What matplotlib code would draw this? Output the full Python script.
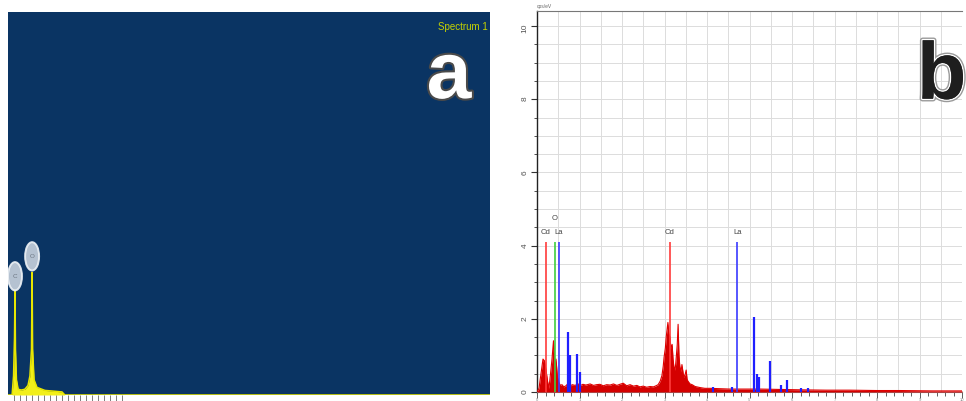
import matplotlib
matplotlib.use("Agg")
import matplotlib.pyplot as plt
import matplotlib.patheffects as pe
from matplotlib.patches import Ellipse
import numpy as np

plt.rcParams['font.family'] = ['Liberation Sans', 'DejaVu Sans']

# ---------------- Panel a data (INCA spectrum, yellow) ----------------
a_energy = [0.0, 0.17, 0.23, 0.27, 0.29, 0.31, 0.35, 0.42, 0.55, 0.70, 0.83, 0.91, 0.975,
            1.0, 1.02, 1.08, 1.20, 1.53, 1.90, 2.24, 2.36, 20.0]
a_counts = [0.0, 0.0, 5.0, 15.0, 27.5, 12.0, 4.0, 1.5, 1.3, 1.5, 2.5, 5.0, 12.0,
            32.0, 12.0, 4.0, 2.0, 1.2, 1.0, 0.8, 0.0, 0.0]
a_labels = ["C", "O"]
a_label_pos = [0.29, 1.0]
a_label_h = [31.0, 36.2]
a_ticks = list(np.arange(0.25, 5.0, 0.25))

# ---------------- Panel b data (cps/eV vs keV) ----------------
b_energy = [0.0, 0.047, 0.094, 0.141, 0.176, 0.212, 0.247, 0.282, 0.318, 0.353, 0.388,
            0.424, 0.447, 0.482, 0.518, 0.55, 0.588, 0.63, 0.682, 0.72, 0.776, 0.83,
            0.90, 0.96, 1.01, 1.08, 1.15, 1.25, 1.33, 1.40, 1.48, 1.56, 1.64, 1.72,
            1.80, 1.88, 1.95, 2.03, 2.11, 2.19, 2.27, 2.35, 2.42, 2.50, 2.58, 2.66,
            2.74, 2.80, 2.85, 2.90, 2.94, 2.97, 2.99, 3.02, 3.04, 3.06, 3.08, 3.10,
            3.13, 3.15, 3.18, 3.20, 3.22, 3.25, 3.27, 3.30, 3.32, 3.34, 3.36, 3.39,
            3.41, 3.44, 3.46, 3.49, 3.51, 3.53, 3.55, 3.60, 3.65, 3.72, 3.84, 3.95,
            4.07, 4.30, 4.54, 4.90, 5.25, 5.70, 6.19, 6.80, 7.36, 8.00, 8.54, 9.30, 10.0]
b_counts = [0.0, 0.1, 0.5, 0.9, 0.85, 0.6, 0.3, 0.1, 0.5, 0.9, 1.4,
            0.7, 0.9, 0.4, 0.25, 0.18, 0.2, 0.14, 0.17, 0.22, 0.16, 0.2,
            0.18, 0.23, 0.17, 0.21, 0.19, 0.22, 0.18, 0.2, 0.21, 0.17, 0.2, 0.19,
            0.22, 0.18, 0.21, 0.24, 0.17, 0.2, 0.16, 0.18, 0.14, 0.16, 0.13, 0.15,
            0.14, 0.17, 0.2, 0.3, 0.45, 0.7, 0.95, 1.2, 1.5, 1.7, 1.9, 1.6,
            1.5, 1.2, 1.3, 0.9, 0.7, 0.6, 0.85, 1.3, 1.85, 1.0, 0.7, 0.55,
            0.75, 0.5, 0.4, 0.5, 0.6, 0.35, 0.3, 0.22, 0.2, 0.15, 0.12, 0.1,
            0.1, 0.09, 0.08, 0.08, 0.08, 0.07, 0.06, 0.05, 0.05, 0.04, 0.04, 0.03, 0.03]

b_blue_E = [0.718, 0.765, 0.941, 1.01, 4.14, 4.59, 5.11, 5.17, 5.23, 5.48, 5.74, 5.88, 6.21, 6.38]
b_blue_h = [1.65, 1.0, 1.05, 0.55, 0.15, 0.15, 2.05, 0.5, 0.4, 0.85, 0.2, 0.33, 0.12, 0.12]

marker_names = ["Cd", "O", "La", "Cd", "La"]
marker_E = [0.21, 0.42, 0.52, 3.13, 4.71]
marker_h = [4.1, 4.1, 4.1, 4.1, 4.1]
marker_colors = ["#ff3b3b", "#3fcf3f", "#3a3aff", "#ff3b3b", "#3a3aff"]
marker_label_y = [4.35, 4.75, 4.35, 4.35, 4.35]

y_ticks = [0, 2, 4, 6, 8, 10]
x_major = list(range(0, 11))

W, H = 966, 401
fig = plt.figure(figsize=(W / 100, H / 100), dpi=100)

# ---------------- Panel a ----------------
axa = fig.add_axes([8 / W, (H - 395) / H, 482 / W, 383 / H])
axa.set_facecolor("#0a3463")
axa.fill_between(a_energy, a_counts, 0, color="#f2ef1a", lw=0)
axa.plot(a_energy, a_counts, color="#e8e600", lw=1.1)
axa.set_xlim(0, 20)
axa.set_ylim(0, 100)
for lab, xe, yh in zip(a_labels, a_label_pos, a_label_h):
    e = Ellipse((xe, yh), width=0.58, height=7.4, facecolor="#c9d3de",
                edgecolor="#eef2f6", lw=1.4, alpha=0.9, zorder=4)
    axa.add_patch(e)
    axa.text(xe, yh, lab, fontsize=4.5, color="#6a7480", ha="center", va="center", zorder=5)
axa.set_xticks(a_ticks)
axa.set_xticklabels([])
axa.set_yticks([])
axa.tick_params(axis="x", direction="out", length=4, width=0.6, color="#666666")
for s in axa.spines.values():
    s.set_visible(False)
axa.text(0.995, 0.975, "Spectrum 1", transform=axa.transAxes, ha="right", va="top",
         fontsize=7, color="#c6d300")
axa.text(0.915, 0.83, "a", transform=axa.transAxes, ha="center", va="center",
         fontsize=58, fontweight="bold", color="white",
         path_effects=[pe.withStroke(linewidth=3, foreground="#4a4a4a")])

# ---------------- Panel b ----------------
axb = fig.add_axes([537 / W, (H - 392) / H, 425 / W, 381 / H])
axb.set_xlim(0, 10)
axb.set_ylim(0, 10.41)
for yv in np.arange(0.5, 10.41, 0.5):
    axb.axhline(yv, color="#dcdcdc", lw=0.7, zorder=0)
for xv in np.arange(0.5, 10.0, 0.5):
    axb.axvline(xv, color="#dcdcdc", lw=0.7, zorder=0)

axb.fill_between(b_energy, b_counts, 0, color="#d40000", lw=0, zorder=3)
axb.plot(b_energy, b_counts, color="#e00000", lw=0.8, zorder=3)
axb.vlines(b_blue_E, 0, b_blue_h, color="#1f1fff", lw=1.6, zorder=4)
axb.vlines(marker_E, 0, marker_h, colors=marker_colors, lw=1.2, zorder=5)
for n, xe, ly in zip(marker_names, marker_E, marker_label_y):
    axb.text(xe, ly, n, fontsize=5.5, color="#444444", ha="center", va="center", zorder=6)

axb.set_yticks(y_ticks, labels=[str(t) for t in y_ticks])
axb.set_yticks(np.arange(0, 10.41, 0.5), minor=True)
axb.tick_params(axis="y", which="major", direction="out", length=4, width=0.8,
                labelsize=6, labelrotation=90, pad=2, color="#333333", labelcolor="#555555")
axb.tick_params(axis="y", which="minor", direction="out", length=2.5, width=0.6, color="#333333")
axb.set_xticks(x_major, labels=[str(t) for t in x_major])
axb.set_xticks(np.arange(0, 10.01, 0.2), minor=True)
axb.tick_params(axis="x", which="major", direction="out", length=4, width=0.6,
                labelsize=3, pad=0.5, color="#444444", labelcolor="#888888")
axb.tick_params(axis="x", which="minor", direction="out", length=3, width=0.6, color="#444444")
axb.spines["left"].set_color("#222222")
axb.spines["left"].set_linewidth(1.0)
axb.spines["bottom"].set_color("#888888")
axb.spines["top"].set_color("#777777")
axb.spines["right"].set_visible(False)
axb.text(0.0, 1.005, "cps/eV", transform=axb.transAxes, fontsize=3.5, color="#666666",
         ha="left", va="bottom")
axb.text(0.952, 0.825, "b", transform=axb.transAxes, ha="center", va="center",
         fontsize=58, fontweight="bold", color="#1e1e1e",
         path_effects=[pe.withStroke(linewidth=4, foreground="#9a9a9a"),
                       pe.withStroke(linewidth=2, foreground="white"), pe.Normal()])

fig.savefig("out.png", dpi=100)
